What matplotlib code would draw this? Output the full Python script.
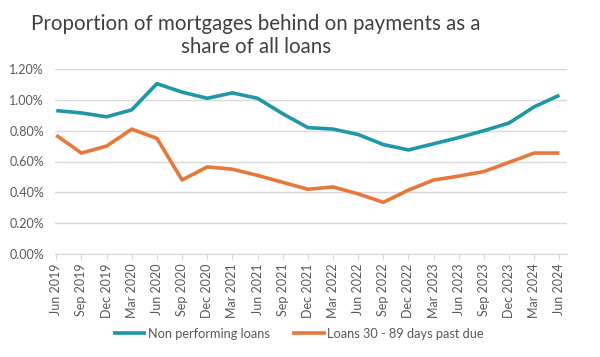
import matplotlib
matplotlib.use("Agg")
import matplotlib.pyplot as plt
from matplotlib.ticker import FuncFormatter

quarters = ["Jun 2019", "Sep 2019", "Dec 2019", "Mar 2020", "Jun 2020", "Sep 2020",
            "Dec 2020", "Mar 2021", "Jun 2021", "Sep 2021", "Dec 2021", "Mar 2022",
            "Jun 2022", "Sep 2022", "Dec 2022", "Mar 2023", "Jun 2023", "Sep 2023",
            "Dec 2023", "Mar 2024", "Jun 2024"]

# values in percent
non_performing = [0.93, 0.915, 0.89, 0.935, 1.105, 1.05, 1.01, 1.045, 1.01, 0.91, 0.82,
                  0.81, 0.775, 0.71, 0.675, 0.715, 0.755, 0.80, 0.85, 0.955, 1.03]
past_due_30_89 = [0.77, 0.655, 0.70, 0.81, 0.75, 0.48, 0.565, 0.55, 0.51, 0.465, 0.42,
                  0.435, 0.39, 0.335, 0.415, 0.48, 0.505, 0.535, 0.595, 0.655, 0.655]

teal = "#1f97a5"
orange = "#e8773a"
grey_txt = "#595959"

plt.rcParams["font.family"] = ["Lato", "DejaVu Sans"]

fig = plt.figure(figsize=(6, 3.57), dpi=100)
ax = fig.add_axes([55 / 600, 1 - 254 / 357, (567 - 55) / 600, (254 - 69) / 357])

x = list(range(len(quarters)))
ax.plot(x, non_performing, color=teal, lw=2.6, solid_capstyle="butt",
        label="Non performing loans")
ax.plot(x, past_due_30_89, color=orange, lw=2.6, solid_capstyle="butt",
        label="Loans 30 - 89 days past due")

ax.set_ylim(0, 1.2)
ax.set_yticks([0, 0.2, 0.4, 0.6, 0.8, 1.0, 1.2])
ax.yaxis.set_major_formatter(FuncFormatter(lambda v, p: f"{v:.2f}%"))
ax.set_xlim(-0.05, 20.3)
ax.set_xticks(x)
ax.set_xticklabels(quarters, rotation=90)

ax.grid(axis="y", color="#d9d9d9", lw=1)
ax.set_axisbelow(True)
for s in ["top", "right", "left"]:
    ax.spines[s].set_visible(False)
ax.spines["bottom"].set_color("#d9d9d9")
ax.tick_params(axis="y", length=0, labelsize=9, labelcolor=grey_txt, pad=8)
ax.tick_params(axis="x", length=4, color="#d9d9d9", labelsize=9,
               labelcolor=grey_txt, pad=3)

fig.text(0.427, 0.96, "Proportion of mortgages behind on payments as a\nshare of all loans",
         ha="center", va="top", fontsize=14.8, color="#404040", linespacing=1.2)

fig.legend(loc="center", bbox_to_anchor=(0.497, 0.065), ncol=2, frameon=False,
           fontsize=9.2, handlelength=2.6, handletextpad=0.1, columnspacing=1.8,
           labelcolor=grey_txt)

fig.savefig("out.png", dpi=100)
